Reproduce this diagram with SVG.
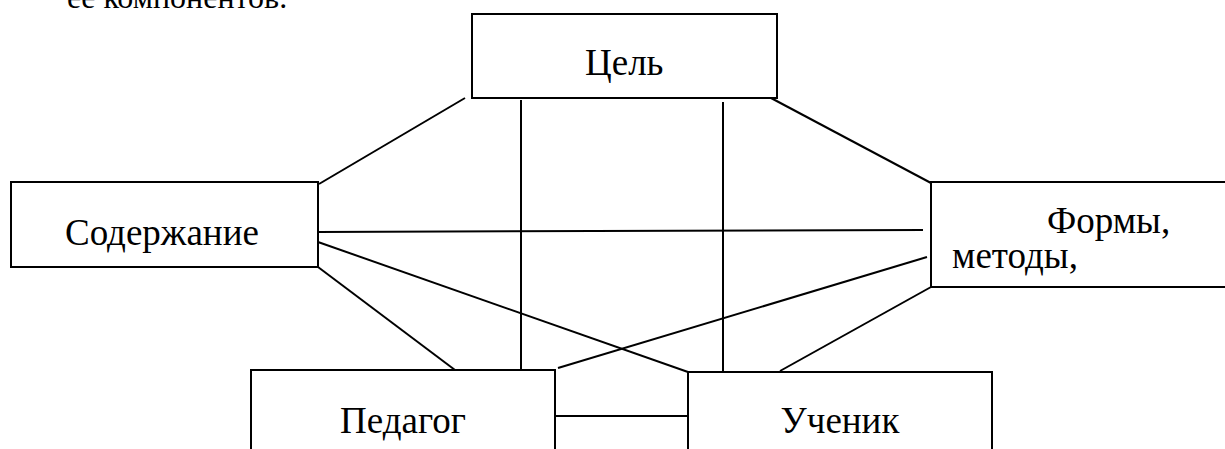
<svg xmlns="http://www.w3.org/2000/svg" width="1225" height="449" viewBox="0 0 1225 449">
<style>
.box{fill:#fff;stroke:#000;stroke-width:2}
.lbl{font-family:'Liberation Serif','Times New Roman',serif;font-size:37px;fill:#000}
.ln{stroke:#000;stroke-width:2;fill:none}
</style>
<rect width="1225" height="449" fill="#fff"/>
<text class="lbl" x="67" y="8" style="font-size:32px">ее компонентов.</text>
<g id="connectors">
<line class="ln" x1="465" y1="98" x2="319" y2="184"/>
<line class="ln" x1="521" y1="100" x2="521" y2="370"/>
<line class="ln" x1="723" y1="102" x2="723" y2="372"/>
<line class="ln" x1="771" y1="98" x2="931" y2="183"/>
<line class="ln" x1="318" y1="232" x2="923" y2="230"/>
<line class="ln" x1="318" y1="242" x2="688" y2="372"/>
<line class="ln" x1="927" y1="257" x2="558" y2="368"/>
<line class="ln" x1="318" y1="267" x2="455" y2="370"/>
<line class="ln" x1="931" y1="287" x2="780" y2="371"/>
<line class="ln" x1="555" y1="416" x2="688" y2="416"/>
</g>
<g id="node-cel">
<rect class="box" x="472" y="14" width="305" height="84"/>
<text class="lbl" x="585" y="75">Цель</text>
</g>
<g id="node-soderzhanie">
<rect class="box" x="11" y="182" width="307" height="85"/>
<text class="lbl" x="65" y="245">Содержание</text>
</g>
<g id="node-formy">
<rect class="box" x="931" y="182" width="300" height="105"/>
<text class="lbl" x="1047" y="233">Формы,</text>
<text class="lbl" x="952" y="268">методы,</text>
</g>
<g id="node-pedagog">
<rect class="box" x="251" y="370" width="304" height="90"/>
<text class="lbl" x="403" y="433" text-anchor="middle">Педагог</text>
</g>
<g id="node-uchenik">
<rect class="box" x="688" y="372" width="304" height="90"/>
<text class="lbl" x="840" y="433" text-anchor="middle">Ученик</text>
</g>
</svg>
